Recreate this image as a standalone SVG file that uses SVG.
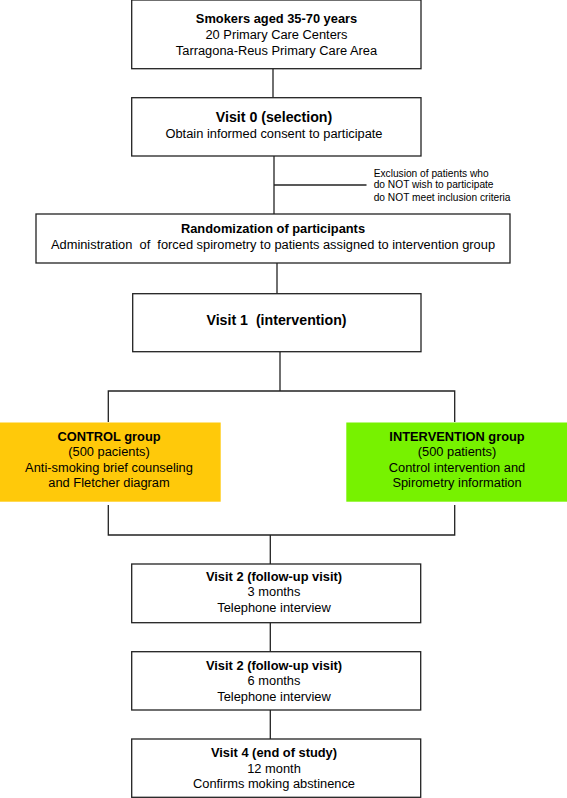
<svg xmlns="http://www.w3.org/2000/svg" width="567" height="798" viewBox="0 0 567 798">
<style>
.box{fill:#fff;stroke:#222;stroke-width:1.3}
.ln{fill:none;stroke:#222;stroke-width:1.3}
text{font-family:"Liberation Sans",Arial,sans-serif;fill:#000;text-anchor:middle;white-space:pre}
.t{font-size:12.85px}
.b{font-size:12.85px;font-weight:bold}
.h{font-size:14.2px;font-weight:bold}
.s{font-size:10.2px;text-anchor:start}
</style>
<rect width="567" height="798" fill="#fff"/>
<g id="connectors">
<line class="ln" x1="273" y1="68.7" x2="273" y2="97.7"/>
<line class="ln" x1="274" y1="156" x2="274" y2="214"/>
<line class="ln" x1="274" y1="185" x2="366.5" y2="185"/>
<line class="ln" x1="277" y1="263" x2="277" y2="293.7"/>
<polyline class="ln" points="280,351.7 280,391"/>
<polyline class="ln" points="108.3,422 108.3,391 454.7,391 454.7,422"/>
<polyline class="ln" points="108.3,505 108.3,535 454.7,535 454.7,505"/>
<line class="ln" x1="270.3" y1="535" x2="270.3" y2="564"/>
<line class="ln" x1="270.3" y1="622.7" x2="270.3" y2="651.7"/>
<line class="ln" x1="270.3" y1="710" x2="270.3" y2="739"/>
</g>
<g id="smokers">
<rect class="box" x="131.7" y="0" width="289.3" height="68.7"/>
<text class="b" x="276.5" y="23.3">Smokers aged 35-70 years</text>
<text class="t" x="276.5" y="39">20 Primary Care Centers</text>
<text class="t" x="276.5" y="54.7">Tarragona-Reus Primary Care Area</text>
</g>
<g id="visit0">
<rect class="box" x="131.7" y="97.7" width="289.3" height="58.3"/>
<text class="h" x="274" y="121.7">Visit 0 (selection)</text>
<text class="t" x="274" y="137.7">Obtain informed consent to participate</text>
</g>
<g id="exclusion">
<text class="s" x="373.7" y="176.7">Exclusion of patients who</text>
<text class="s" x="373.7" y="188.3">do NOT wish to participate</text>
<text class="s" x="373.7" y="200.7">do NOT meet inclusion criteria</text>
</g>
<g id="randomization">
<rect class="box" x="36" y="214" width="474" height="49"/>
<text class="b" x="273" y="233.3">Randomization of participants</text>
<text class="t" x="273" y="249">Administration  of  forced spirometry to patients assigned to intervention group</text>
</g>
<g id="visit1">
<rect class="box" x="132.7" y="293.7" width="288.3" height="58"/>
<text class="h" x="276.5" y="325">Visit 1  (intervention)</text>
</g>
<g id="control">
<rect x="0" y="422.5" width="220.7" height="79.2" fill="#FFC90A"/>
<text class="b" x="109" y="440.7">CONTROL group</text>
<text class="t" x="109" y="456.2">(500 pacients)</text>
<text class="t" x="109" y="471.7">Anti-smoking brief counseling</text>
<text class="t" x="109" y="487.2">and Fletcher diagram</text>
</g>
<g id="intervention">
<rect x="346.3" y="422.5" width="220.7" height="79.2" fill="#77F200"/>
<text class="b" x="457" y="440.7">INTERVENTION group</text>
<text class="t" x="457" y="456.2">(500 patients)</text>
<text class="t" x="457" y="471.7">Control intervention and</text>
<text class="t" x="457" y="487.2">Spirometry information</text>
</g>
<g id="visit2a">
<rect class="box" x="131.7" y="564" width="289" height="58.7"/>
<text class="b" x="274" y="580.7">Visit 2 (follow-up visit)</text>
<text class="t" x="274" y="596">3 months</text>
<text class="t" x="274" y="611.7">Telephone interview</text>
</g>
<g id="visit2b">
<rect class="box" x="131.7" y="651.7" width="289" height="58.3"/>
<text class="b" x="274" y="670">Visit 2 (follow-up visit)</text>
<text class="t" x="274" y="685.3">6 months</text>
<text class="t" x="274" y="700.7">Telephone interview</text>
</g>
<g id="visit4">
<rect class="box" x="131.7" y="739" width="289" height="58.3"/>
<text class="b" x="274" y="757.3">Visit 4 (end of study)</text>
<text class="t" x="274" y="772.7">12 month</text>
<text class="t" x="274" y="788">Confirms moking abstinence</text>
</g>
</svg>
